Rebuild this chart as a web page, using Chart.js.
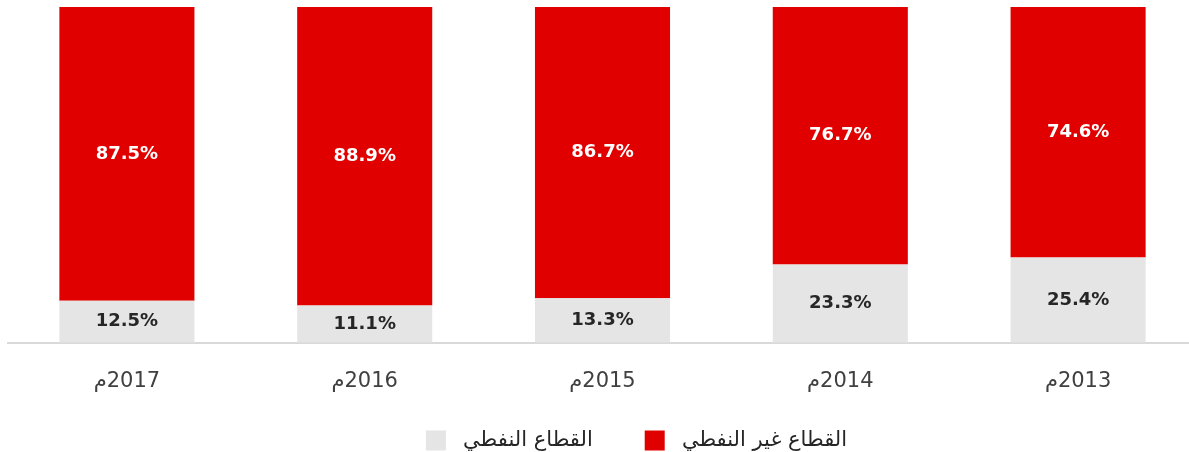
<!DOCTYPE html>
<html>
<head>
<meta charset="utf-8">
<script src="https://cdn.jsdelivr.net/npm/chart.js@4"></script>
<style>
  html, body { margin: 0; padding: 0; background: #fff; overflow: hidden; }
  #wrap { width: 1197px; height: 452px; position: relative; }
</style>
</head>
<body>
<div id="wrap"><canvas id="myChart"></canvas></div>
<script>
// years, left to right as in the picture
var years = ['2017', '2016', '2015', '2014', '2013'];
var oilShare = [12.5, 11.1, 13.3, 23.3, 25.4];
var nonOilShare = [87.5, 88.9, 86.7, 76.7, 74.6];
var oilLabel = 'القطاع النفطي';
var nonOilLabel = 'القطاع غير النفطي';

var red = '#e10000';
var grey = '#e5e5e5';

// year + "م", put in an RTL run so the letter sits on the left
function yearLabel(y) {
    return '\u202B' + y + 'م' + '\u202C';
}

// values written in the middle of each piece of the bar
var barLabels = {
    id: 'barLabels',
    afterDatasetsDraw: function (chart) {
        var ctx = chart.ctx;
        ctx.save();
        ctx.font = 'bold 18px "DejaVu Sans"';
        ctx.textAlign = 'center';
        ctx.textBaseline = 'middle';
        chart.data.datasets.forEach(function (ds, i) {
            var meta = chart.getDatasetMeta(i);
            meta.data.forEach(function (bar, j) {
                ctx.fillStyle = ds.labelColor;
                ctx.fillText(ds.data[j].toFixed(1) + '%', bar.x, (bar.y + bar.base) / 2);
            });
        });
        ctx.restore();
    }
};

// legend sits a bit right of the middle in the original
var legendShift = {
    id: 'legendShift',
    afterLayout: function (chart) {
        chart.legend.left += 34;
        chart.legend.right += 34;
    }
};

const config = {
    type: 'bar',
    data: {
        labels: years.map(yearLabel),
        datasets: [{
            label: ' ' + oilLabel + '\u2003\u2003',
            data: oilShare,
            backgroundColor: grey,
            labelColor: '#262626'
        }, {
            label: ' ' + nonOilLabel,
            data: nonOilShare,
            backgroundColor: red,
            labelColor: '#ffffff'
        }]
    },
    options: {
        responsive: true, maintainAspectRatio: false,
        animation: false,
        layout: { padding: { top: 7, left: 8, right: 0, bottom: -9 } },
        datasets: { bar: { barPercentage: 0.568, categoryPercentage: 1 } },
        scales: {
            x: {
                stacked: true,
                grid: { display: false, drawTicks: false },
                border: { display: true, color: '#d9d9d9', width: 2 },
                ticks: { color: '#404040', font: { family: 'DejaVu Sans', size: 21 }, padding: 26 }
            },
            y: {
                stacked: true, display: false, min: 0, max: 100
            }
        },
        plugins: {
            legend: {
                position: 'bottom',
                labels: {
                    color: '#262626',
                    font: { family: 'DejaVu Sans', size: 21 },
                    boxWidth: 20, boxHeight: 20, padding: 10
                }
            },
            tooltip: { enabled: false }
        }
    },
    plugins: [barLabels, legendShift]
};

var myChart = new Chart(document.getElementById('myChart'), config);
</script>
</body>
</html>
